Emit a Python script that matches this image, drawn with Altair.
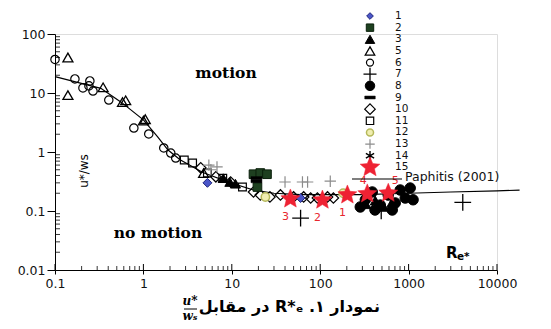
import altair as alt
import pandas as pd

# ---------------- data ----------------
# Re* values and u*/ws values for each legend series
s1_re = [5.3, 60]
s1_v = [0.30, 0.166]
s2_re = [17.6, 21, 25, 19.5]
s2_v = [0.42, 0.44, 0.42, 0.255]
s3_re = [8.0, 9.5, 11, 330, 420, 520, 650]
s3_v = [0.36, 0.31, 0.29, 0.13, 0.15, 0.12, 0.14]
s5_re = [0.14, 0.14, 0.35, 0.58, 0.63, 1.0, 1.05, 4.8]
s5_v = [40, 9.2, 12.5, 7.0, 7.5, 3.4, 3.6, 0.44]
s6_re = [0.10, 0.168, 0.207, 0.248, 0.242, 0.269, 0.406, 0.78, 1.15, 1.70, 2.04, 2.32]
s6_v = [37, 17.3, 12.2, 16.0, 13.2, 10.8, 7.6, 2.55, 2.02, 1.17, 0.96, 0.79]
s7_re = [60, 490, 4100]
s7_v = [0.076, 0.10, 0.14]
s8_re = [284, 324, 388, 417, 478, 588, 653, 706, 804, 916, 1042, 1124]
s8_v = [0.117, 0.155, 0.21, 0.104, 0.126, 0.186, 0.104, 0.137, 0.227, 0.166, 0.245, 0.155]
s9_re = [19, 19]
s9_v = [0.36, 0.32]
s10_re = [4.45, 6.6, 9.7, 17.6, 21, 27, 35.5, 50, 65, 78, 93, 121, 141]
s10_v = [0.54, 0.38, 0.31, 0.21, 0.187, 0.173, 0.187, 0.173, 0.173, 0.166, 0.166, 0.173, 0.166]
s11_re = [2.9, 3.6, 5.3, 7.9, 13.2]
s11_v = [0.73, 0.65, 0.44, 0.36, 0.255]
s12_re = [24, 182]
s12_v = [0.173, 0.20]
s13_re = [5.5, 6.8, 5.8, 40, 63, 72, 130]
s13_v = [0.60, 0.56, 0.50, 0.31, 0.31, 0.31, 0.32]
s15_re = [203, 106, 46, 341, 589]
s15_v = [0.187, 0.153, 0.16, 0.195, 0.20]
s15_lab = ["1", "2", "3", "4", "5"]

# Paphitis (2001) curve
pap_re = [0.1, 0.33, 0.56, 1.0, 1.45, 1.9, 2.6, 4.7, 9.7, 17.6, 30, 60, 100, 300, 1000, 3000, 10000, 18000]
pap_v = [19, 12, 7.0, 3.5, 1.8, 1.08, 0.74, 0.45, 0.30, 0.227, 0.2, 0.19, 0.19, 0.19, 0.2, 0.21, 0.22, 0.225]

legend_keys = ["1", "2", "3", "5", "6", "7", "8", "9", "10", "11", "12", "13", "14", "15"]
curve_label = "Paphitis (2001)"

x_major = [0.1, 1, 10, 100, 1000, 10000]
y_major = [0.01, 0.1, 1, 10, 100]

# ---------------- styles ----------------
PLUS = "M-1,0L1,0M0,-1L0,1"
BAR = "M-1,-0.28L1,-0.28L1,0.28L-1,0.28Z"
AST = "M0,-1L0,1M-0.87,-0.5L0.87,0.5M-0.87,0.5L0.87,-0.5"
STAR = ("M0,-1L0.265,-0.364L0.951,-0.309L0.428,0.139L0.588,0.809L0,0.45"
        "L-0.588,0.809L-0.428,0.139L-0.951,-0.309L-0.265,-0.364Z")
T = "transparent"
styles = {
    "1": dict(shape="diamond", fill="#4a55c8", stroke="#1d237a", size=80, lsize=45, sw=1.0),
    "2": dict(shape="square", fill="#1e4020", stroke="#0b200c", size=75, lsize=55, sw=1.0),
    "3": dict(shape="triangle-up", fill="black", stroke="black", size=100, lsize=90, sw=1.0),
    "5": dict(shape="triangle-up", fill=T, stroke="black", size=100, lsize=90, sw=1.3),
    "6": dict(shape="circle", fill=T, stroke="black", size=70, lsize=50, sw=1.2),
    "7": dict(shape=PLUS, fill=T, stroke="black", size=280, lsize=170, sw=1.3),
    "8": dict(shape="circle", fill="black", stroke="black", size=110, lsize=90, sw=1.0),
    "9": dict(shape=BAR, fill="black", stroke="black", size=120, lsize=110, sw=0.5),
    "10": dict(shape="diamond", fill=T, stroke="black", size=110, lsize=110, sw=1.2),
    "11": dict(shape="square", fill=T, stroke="black", size=60, lsize=55, sw=1.2),
    "12": dict(shape="circle", fill="#f0eeb0", stroke="#b5b85a", size=70, lsize=50, sw=1.5),
    "13": dict(shape=PLUS, fill=T, stroke="#8c8c8c", size=130, lsize=90, sw=1.2),
    "14": dict(shape=AST, fill=T, stroke="black", size=110, lsize=90, sw=1.4),
    "15": dict(shape=STAR, fill="#ee2233", stroke="#ee2233", size=400, lsize=430, sw=0.5),
}

series = [
    ("6", s6_re, s6_v), ("5", s5_re, s5_v), ("11", s11_re, s11_v), ("10", s10_re, s10_v),
    ("1", s1_re, s1_v), ("2", s2_re, s2_v), ("9", s9_re, s9_v), ("13", s13_re, s13_v),
    ("12", s12_re, s12_v), ("3", s3_re, s3_v), ("8", s8_re, s8_v), ("7", s7_re, s7_v),
    ("15", s15_re, s15_v),
]
rows = []
for key, xs_, vs_ in series:
    for r, v in zip(xs_, vs_):
        rows.append(dict(series=key, Re=r, v=v, **styles[key]))
pts = pd.DataFrame(rows)

stars = pd.DataFrame({"Re": s15_re, "v": s15_v, "lab": s15_lab})
curve = pd.DataFrame({"Re": pap_re, "v": pap_v})
leg = pd.DataFrame([dict(key=k, **styles[k]) for k in legend_keys])
leg_curve = pd.DataFrame({"key": ["pap"], "label": [curve_label]})

x_minor = [m * d for d in [0.1, 1, 10, 100, 1000] for m in range(2, 10)]
y_minor = [m * d for d in [0.01, 0.1, 1, 10] for m in range(2, 10)]

W, H = 442, 236
FONT = "DejaVu Sans"

xs = alt.Scale(type="log", domain=[0.1, 10000], nice=False)
ys = alt.Scale(type="log", domain=[0.01, 100], nice=False)

x_axis = alt.Axis(values=x_major, labelExpr="'' + datum.value", title=None, grid=False,
                  tickSize=4, labelPadding=3, labelFont=FONT, labelFontSize=12.5,
                  labelColor="#111", domainColor="black", tickColor="black",
                  labelFlush=False, labelOverlap=False)
y_axis = alt.Axis(values=y_major, labelExpr="'' + datum.value", title=None, grid=False,
                  tickSize=8, labelPadding=2, labelFont=FONT, labelFontSize=12.5,
                  labelColor="#111", domainColor="black", tickColor="black",
                  labelFlush=False, labelOverlap=False)

X = lambda f: alt.X(f, scale=xs, axis=x_axis)
Y = lambda f: alt.Y(f, scale=ys, axis=y_axis)

line = alt.Chart(curve).mark_line(color="black", strokeWidth=1.2, clip=False).encode(
    x=X("Re:Q"), y=Y("v:Q"),
)

points = alt.Chart(pts).mark_point(opacity=1, fillOpacity=1, strokeOpacity=1).encode(
    x=X("Re:Q"), y=Y("v:Q"),
    shape=alt.Shape("shape:N", scale=None),
    fill=alt.Fill("fill:N", scale=None),
    stroke=alt.Stroke("stroke:N", scale=None),
    size=alt.Size("size:Q", scale=None),
    strokeWidth=alt.StrokeWidth("sw:Q", scale=None),
)


def star_text(sel, dx, dy):
    return alt.Chart(stars).transform_filter(
        alt.FieldOneOfPredicate(field="lab", oneOf=sel)
    ).mark_text(color="#e8262e", fontSize=11, font=FONT, dx=dx, dy=dy).encode(
        x=X("Re:Q"), y=Y("v:Q"), text="lab:N",
    )


lab_below = star_text(["1", "2", "3"], -5, 18)
lab4 = star_text(["4"], -4, -13)
lab5 = star_text(["5"], 7, -12)

xminor = alt.Chart(pd.DataFrame({"t": x_minor})).mark_rule(color="black", strokeWidth=0.8).encode(
    x=X("t:Q"), y=alt.value(H), y2=alt.value(H - 4))
xmajor = alt.Chart(pd.DataFrame({"t": x_major})).mark_rule(color="black", strokeWidth=1).encode(
    x=X("t:Q"), y=alt.value(H), y2=alt.value(H - 6))
yminor = alt.Chart(pd.DataFrame({"t": y_minor})).mark_rule(color="black", strokeWidth=0.8).encode(
    y=Y("t:Q"), x=alt.value(0), x2=alt.value(5))


def label(txt, x, y, **kw):
    return alt.Chart(pd.DataFrame({"t": [txt]})).mark_text(**kw).encode(
        text="t:N", x=alt.value(x), y=alt.value(y))


motion = label("motion", 171, 39, font="DejaVu Serif", fontWeight="bold", fontSize=15.5)
nomotion = label("no motion", 103, 199, font="DejaVu Serif", fontWeight="bold", fontSize=15.5)
ytitle = label("u*/ws", 29, 137, font=FONT, fontSize=12, angle=270)
re_R = label("R", 391, 224, font=FONT, fontWeight="bold", fontSize=15, align="left", baseline="alphabetic")
re_e = label("e*", 402, 226, font=FONT, fontWeight="bold", fontSize=10.5, align="left", baseline="alphabetic")

caption = label("\u202bنمودار ۱. R*\u2091 در مقابل\u202c", 325, 278, font=FONT, fontWeight="bold",
                fontSize=16, align="right", baseline="alphabetic")
frac_u = label("u*", 135, 271, font="DejaVu Serif", fontWeight="bold", fontStyle="italic",
               fontSize=12, baseline="alphabetic")
frac_w = label("w\u209b", 135, 286, font="DejaVu Serif", fontWeight="bold", fontStyle="italic",
               fontSize=12, baseline="alphabetic")
frac_bar = alt.Chart(pd.DataFrame({"t": [0]})).mark_rule(color="black", strokeWidth=1).encode(
    x=alt.value(129), x2=alt.value(142), y=alt.value(275))

inner = alt.layer(
    xminor, xmajor, yminor, line, points, lab_below, lab4, lab5,
    motion, nomotion, ytitle, re_R, re_e, caption, frac_u, frac_w, frac_bar,
)

# ---------------- legend (own discrete y scale) ----------------
ly = alt.Scale(domain=legend_keys + ["pap"], range=[-23.8, 150.8])
leg_sym = alt.Chart(leg).mark_point(opacity=1, fillOpacity=1, strokeOpacity=1).encode(
    x=alt.value(315),
    y=alt.Y("key:N", scale=ly, axis=None),
    shape=alt.Shape("shape:N", scale=None),
    fill=alt.Fill("fill:N", scale=None),
    stroke=alt.Stroke("stroke:N", scale=None),
    size=alt.Size("lsize:Q", scale=None),
    strokeWidth=alt.StrokeWidth("sw:Q", scale=None),
)
leg_txt = alt.Chart(leg).mark_text(align="left", fontSize=10.5, font=FONT, color="#111").encode(
    x=alt.value(340), y=alt.Y("key:N", scale=ly, axis=None), text="key:N")
leg_line = alt.Chart(leg_curve).mark_rule(color="black", strokeWidth=1.2).encode(
    x=alt.value(297), x2=alt.value(347), y=alt.Y("key:N", scale=ly, axis=None))
leg_line_txt = alt.Chart(leg_curve).mark_text(align="left", fontSize=12.5, font=FONT, color="#111", dy=-2).encode(
    x=alt.value(350), y=alt.Y("key:N", scale=ly, axis=None), text="label:N")
legend = alt.layer(leg_sym, leg_txt, leg_line, leg_line_txt)

chart = alt.layer(inner, legend).resolve_scale(y="independent").properties(
    width=W, height=H,
    padding={"left": 47, "top": 26, "right": 40, "bottom": 55},
    autosize=alt.AutoSizeParams(type="none"),
).configure_view(stroke=None).configure(background="white")

chart.save("out.html", embed_options={"renderer": "svg", "actions": False})
